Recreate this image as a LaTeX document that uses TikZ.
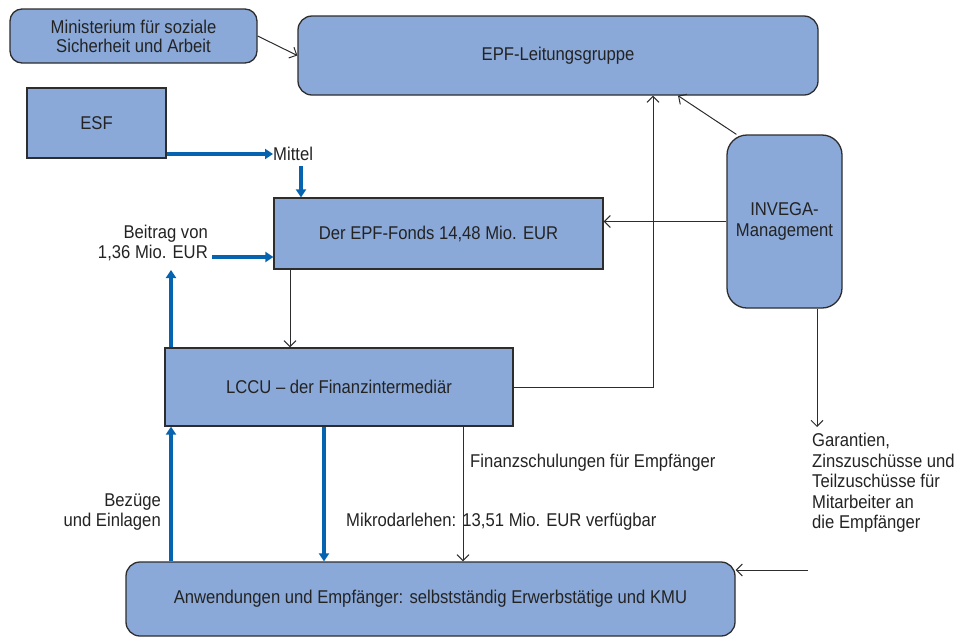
\documentclass[tikz,border=0pt]{standalone}
\usepackage{fontspec}
\setmainfont{Liberation Sans}[FakeStretch=0.9]
\usetikzlibrary{arrows.meta}
\definecolor{boxfill}{RGB}{138,169,216}
\definecolor{boxline}{RGB}{45,45,45}
\definecolor{flowblue}{RGB}{5,99,176}
\definecolor{txt}{RGB}{35,35,35}
\begin{document}
\begin{tikzpicture}[x=1pt,y=-1pt,
  every node/.style={font=\fontsize{18.5}{20.5}\selectfont, text=txt},
  sqbox/.style={draw=boxline, line width=1.3pt, fill=boxfill, inner sep=0pt, align=center},
  rbox/.style={sqbox, rounded corners=14pt},
  bluearrow/.style={draw=flowblue, line width=4.5pt, -{Triangle[length=8pt,width=10pt]}},
  blackarrow/.style={draw=boxline, line width=1pt, -{Straight Barb[length=6pt,width=12pt]}},
  lbl/.style={inner sep=0pt}
]
\path[use as bounding box] (0,0) rectangle (957,638);

% boxes
\node[rbox, rounded corners=12pt, minimum width=247pt, minimum height=54pt,
      font=\fontsize{18.5}{19}\selectfont] (min) at (133.5,36) {Ministerium für soziale\\Sicherheit und Arbeit};
\node[rbox, minimum width=520pt, minimum height=79pt] (leit) at (558,55.5) {EPF-Leitungsgruppe};
\node[sqbox, minimum width=139pt, minimum height=70pt] (esf) at (96.5,123) {ESF};
\node[sqbox, minimum width=329pt, minimum height=71pt] (fonds) at (438.5,233.5) {Der EPF-Fonds 14,48 Mio. EUR};
\node[sqbox, minimum width=348pt, minimum height=78pt] (lccu) at (339,387) {LCCU -- der Finanzintermediär};
\node[rbox, rounded corners=20pt, minimum width=115pt, minimum height=173pt] (inv) at (784.5,221.5) {INVEGA-\\Management};
\node[rbox, minimum width=609pt, minimum height=74pt] (anw) at (430.5,599) {Anwendungen und Empfänger: selbstständig Erwerbstätige und KMU};

% labels
\node[lbl, anchor=west] (mittel) at (273,154) {Mittel};
\node[lbl, anchor=east, align=right] (beitrag) at (208,243) {Beitrag von\\1,36 Mio. EUR};
\node[lbl, anchor=east, align=right] (bezuege) at (161,512) {Bezüge\\und Einlagen};
\node[lbl, anchor=west] (finanz) at (470,463) {Finanzschulungen für Empfänger};
\node[lbl, anchor=west] (mikro) at (346,522) {Mikrodarlehen: 13,51 Mio. EUR verfügbar};
\node[lbl, anchor=west, align=left] (garant) at (812,483) {Garantien,\\Zinszuschüsse und\\Teilzuschüsse für\\Mitarbeiter an\\die Empfänger};

% helper coordinates
\coordinate (m1) at (301,166);
\coordinate (b1) at (212,257);
\coordinate (b2) at (171,270);
\coordinate (c1) at (290,0);
\coordinate (k1) at (653,0);
\coordinate (k2) at (678,0);
\coordinate (g1) at (817,427);
\coordinate (a1) at (808,570);
\coordinate (u1) at (171,0);
\coordinate (u2) at (324,0);
\coordinate (u3) at (463,0);

% blue flows
\draw[bluearrow] (esf.east |- mittel.west) -- (mittel.west);
\draw[bluearrow] (m1) -- (m1 |- fonds.north);
\draw[bluearrow] (b1) -- (b1 -| fonds.west);
\draw[bluearrow] (b2 |- lccu.north) -- (b2);
\draw[bluearrow] (u1 |- anw.north) -- (u1 |- lccu.south);
\draw[bluearrow] (u2 |- lccu.south) -- (u2 |- anw.north);

% black connectors
\draw[blackarrow] (min.east) -- (leit.west);
\draw[blackarrow] (c1 |- fonds.south) -- (c1 |- lccu.north);
\draw[blackarrow] (lccu.east) -| (k1 |- leit.south);
\draw[blackarrow] (inv.west) -- (inv.west -| fonds.east);
\draw[blackarrow] ([xshift=10pt]inv.north west) -- (k2 |- leit.south);
\draw[blackarrow] (g1 |- inv.south) -- (g1);
\draw[blackarrow] (a1) -- (a1 -| anw.east);
\draw[blackarrow] (u3 |- lccu.south) -- (u3 |- anw.north);
\end{tikzpicture}
\end{document}
